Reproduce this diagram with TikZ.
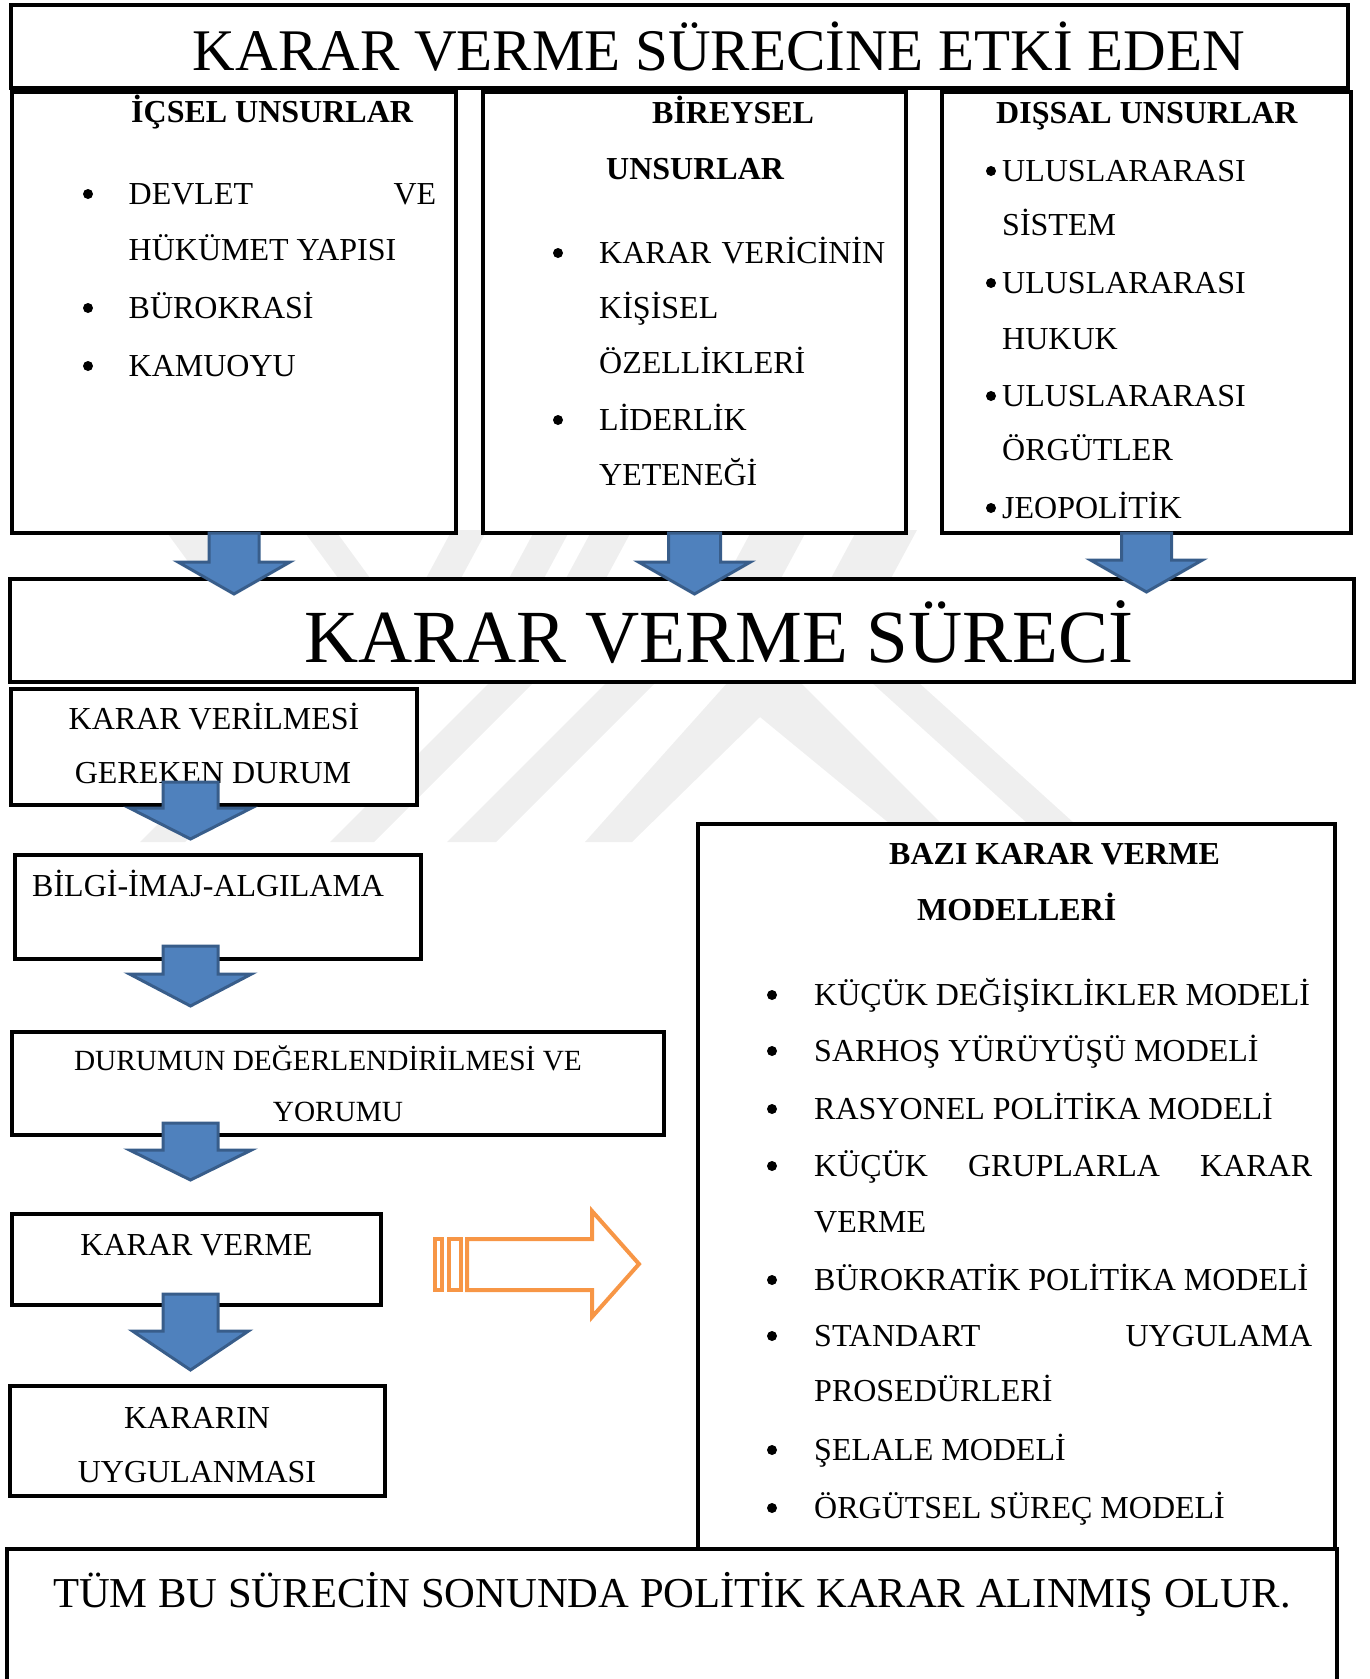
\documentclass[tikz,border=0pt]{standalone}
\usepackage{fontspec}
\setmainfont{Liberation Serif}
\usepackage{xcolor}
\usetikzlibrary{calc}

\definecolor{arrblue}{HTML}{4F81BD}
\definecolor{arrline}{HTML}{385D8A}
\definecolor{arrorange}{HTML}{F79646}
\definecolor{wmgray}{HTML}{EFEFEF}

\tikzset{
  box/.style={draw, line width=4.5pt, fill=white, inner sep=0pt, outer sep=0pt},
  txt/.style={inner sep=0pt, anchor=base west, font=\fontsize{32}{38}\selectfont},
  ctxt/.style={txt, anchor=base},
  hdr/.style={txt, font=\fontsize{32}{38}\selectfont\bfseries},
  dot/.style={circle, fill, inner sep=0pt, minimum size=10pt},
  wmark/.style={fill=wmgray},
  pics/blockdown/.style n args={4}{code={
    \draw[fill=arrblue, draw=arrline, line width=3pt, line join=miter]
      (-#1,0) -- (#1,0) -- (#1,#3) -- (#2,#3) -- (0,#4) -- (-#2,#3) -- (-#1,#3) -- cycle;
  }},
}

\begin{document}
\begin{tikzpicture}[x=1pt, y=-1pt]
    \useasboundingbox (0,0) rectangle (1370,1679);
    \clip (0,0) rectangle (1370,1679);

    % faint watermark behind the boxes
    \fill[wmark] (165,530) -- (205,530) -- (243,582) -- (203,582) -- cycle;
    \fill[wmark] (303,530) -- (335,530) -- (373,582) -- (341,582) -- cycle;
    \fill[wmark] (452,530) -- (487,530) -- (459,582) -- (424,582) -- cycle;
    \fill[wmark] (535,530) -- (570,530) -- (542,582) -- (507,582) -- cycle;
    \fill[wmark] (592,530) -- (632,530) -- (604,582) -- (564,582) -- cycle;
    \fill[wmark] (752,530) -- (807,530) -- (779,582) -- (724,582) -- cycle;
    \fill[wmark] (857,530) -- (917,530) -- (889,582) -- (829,582) -- cycle;
    \fill[wmark] (140,842) -- (185,842) -- (245,782) -- (200,782) -- cycle;
    \fill[wmark] (330,842) -- (374,842) -- (534,682) -- (490,682) -- cycle;
    \fill[wmark] (447,842) -- (496,842) -- (656,682) -- (607,682) -- cycle;
    \fill[wmark] (585,842) -- (728,682) -- (800,682) -- (960,842) -- (912,842) -- (760,717) -- (632,842) -- cycle;
    \fill[wmark] (871,682) -- (918,682) -- (1095,842) -- (1048,842) -- cycle;

    % boxes
    \node[box, minimum width=1337pt, minimum height=83pt] (title) at (679.5,46.5) {};
    \node[box, minimum width=444pt, minimum height=441pt] (colL) at (234,312.5) {};
    \node[box, minimum width=423pt, minimum height=441pt] (colM) at (694.5,312.5) {};
    \node[box, minimum width=409pt, minimum height=441pt] (colR) at (1146.5,312.5) {};
    \node[box, minimum width=1344pt, minimum height=103pt] (surec) at (682,630.5) {};
    \node[box, minimum width=406pt, minimum height=116pt] (boxA) at (214,747) {};
    \node[box, minimum width=406pt, minimum height=104pt] (boxB) at (218,907) {};
    \node[box, minimum width=652pt, minimum height=103pt] (boxC) at (338,1083.5) {};
    \node[box, minimum width=369pt, minimum height=91pt] (boxD) at (196.5,1259.5) {};
    \node[box, minimum width=375pt, minimum height=110pt] (boxE) at (197.5,1441) {};
    \node[box, minimum width=637pt, minimum height=726pt] (models) at (1016.5,1187) {};
    \node[box, minimum width=1330pt, minimum height=171pt] (sonuc) at (672,1634.5) {};

    % headings
    \node[ctxt, font=\fontsize{59}{70}\selectfont] (titletext) at (719,70) {KARAR VERME SÜRECİNE ETKİ EDEN};
    \node[ctxt, font=\fontsize{75}{90}\selectfont] (surectext) at (719,662) {KARAR VERME SÜRECİ};

    % left column
    \node[hdr] (icsel) at (131,122) {İÇSEL UNSURLAR};
    \node[dot] (dL1) at (88,194) {};
    \node[txt] (devlet) at (128.5,204) {\makebox[307.5pt][l]{DEVLET\hfill VE}};
    \node[txt] (hukumet) at (128.5,260) {HÜKÜMET YAPISI};
    \node[dot] (dL2) at (88,308) {};
    \node[txt] (burokrasi) at (128.5,318) {BÜROKRASİ};
    \node[dot] (dL3) at (88,366) {};
    \node[txt] (kamuoyu) at (128.5,376) {KAMUOYU};

    % middle column
    \node[hdr] (bireysel) at (652,123) {BİREYSEL};
    \node[hdr] (unsurlar) at (606,179) {UNSURLAR};
    \node[dot] (dM1) at (558,253) {};
    \node[txt] (verici) at (599,263) {\makebox[286pt][l]{KARAR\hfill VERİCİNİN}};
    \node[txt] (kisisel) at (599,318) {KİŞİSEL};
    \node[txt] (ozellik) at (599,373) {ÖZELLİKLERİ};
    \node[dot] (dM2) at (558,420) {};
    \node[txt] (liderlik) at (599,430) {LİDERLİK};
    \node[txt] (yetenek) at (599,485) {YETENEĞİ};

    % right column
    \node[hdr] (dissal) at (996,123) {DIŞSAL UNSURLAR};
    \node[dot] (dR1) at (991,171) {};
    \node[txt] (ulus1) at (1002,181) {ULUSLARARASI};
    \node[txt] (sistem) at (1002,235) {SİSTEM};
    \node[dot] (dR2) at (991,283) {};
    \node[txt] (ulus2) at (1002,293) {ULUSLARARASI};
    \node[txt] (hukuk) at (1002,349) {HUKUK};
    \node[dot] (dR3) at (991,396) {};
    \node[txt] (ulus3) at (1002,406) {ULUSLARARASI};
    \node[txt] (orgut) at (1002,460) {ÖRGÜTLER};
    \node[dot] (dR4) at (991,508) {};
    \node[txt] (jeopol) at (1002,518) {JEOPOLİTİK};

    % process chain
    \node[ctxt] (kvA1) at (214,729) {KARAR VERİLMESİ};
    \node[ctxt] (kvA2) at (213,783) {GEREKEN DURUM};
    \node[txt] (bilgi) at (32,896) {BİLGİ-İMAJ-ALGILAMA};
    \node[ctxt, font=\fontsize{29.3}{35}\selectfont] (durum1) at (328,1070) {DURUMUN DEĞERLENDİRİLMESİ VE};
    \node[ctxt, font=\fontsize{29.3}{35}\selectfont] (durum2) at (338,1121) {YORUMU};
    \node[ctxt] (kvD) at (196.5,1255) {KARAR VERME};
    \node[ctxt] (kararin) at (197,1428) {KARARIN};
    \node[ctxt] (uygula) at (197,1482) {UYGULANMASI};

    % models
    \node[hdr] (bazi) at (889,864) {BAZI KARAR VERME};
    \node[hdr] (modelleri) at (917,920) {MODELLERİ};
    \node[dot] (m1) at (772,995) {};
    \node[txt] (kucuk) at (814,1005) {KÜÇÜK DEĞİŞİKLİKLER MODELİ};
    \node[dot] (m2) at (772,1051) {};
    \node[txt] (sarhos) at (814,1061) {SARHOŞ YÜRÜYÜŞÜ MODELİ};
    \node[dot] (m3) at (772,1109) {};
    \node[txt] (rasyonel) at (814,1119) {RASYONEL POLİTİKA MODELİ};
    \node[dot] (m4) at (772,1166) {};
    \node[txt] (grup) at (814,1176) {\makebox[498pt][l]{KÜÇÜK\hfill GRUPLARLA\hfill KARAR}};
    \node[txt] (grup2) at (814,1232) {VERME};
    \node[dot] (m5) at (772,1280) {};
    \node[txt] (burokratik) at (814,1290) {BÜROKRATİK POLİTİKA MODELİ};
    \node[dot] (m6) at (772,1336) {};
    \node[txt] (standart) at (814,1346) {\makebox[498pt][l]{STANDART\hfill UYGULAMA}};
    \node[txt] (prosedur) at (814,1401) {PROSEDÜRLERİ};
    \node[dot] (m7) at (772,1450) {};
    \node[txt] (selale) at (814,1460) {ŞELALE MODELİ};
    \node[dot] (m8) at (772,1508) {};
    \node[txt] (orgutsel) at (814,1518) {ÖRGÜTSEL SÜREÇ MODELİ};

    \node[ctxt, font=\fontsize{42.6}{50}\selectfont] (sonuctext) at (672,1607) {TÜM BU SÜRECİN SONUNDA POLİTİK KARAR ALINMIŞ OLUR.};

    % blue block arrows
    \pic at (colL.south) {blockdown={25}{56}{29}{61}};
    \pic at (colM.south) {blockdown={26}{56}{29}{61}};
    \pic at (colR.south) {blockdown={25}{56}{27}{59}};
    \pic at ($(boxA.south)+(-23.5,-23)$) {blockdown={27.5}{61}{26}{57}};
    \pic at ($(boxB.south)+(-27.5,-13)$) {blockdown={27.5}{61}{28}{60}};
    \pic at ($(boxC.south west)+(178.5,-12)$) {blockdown={27.5}{61}{27}{57}};
    \pic at ($(boxD.south)+(-6,-11)$) {blockdown={27.5}{58}{37}{76}};

    % orange striped arrow
    \draw[arrorange, line width=4pt] (435,1239) rectangle (442,1290);
    \draw[arrorange, line width=4pt] (449,1239) rectangle (461,1290);
    \draw[arrorange, line width=4pt, line join=miter]
      (467,1239) -- (592,1239) -- (592,1211) -- (639,1264) -- (592,1317) -- (592,1290) -- (467,1290) -- cycle;
\end{tikzpicture}
\end{document}
